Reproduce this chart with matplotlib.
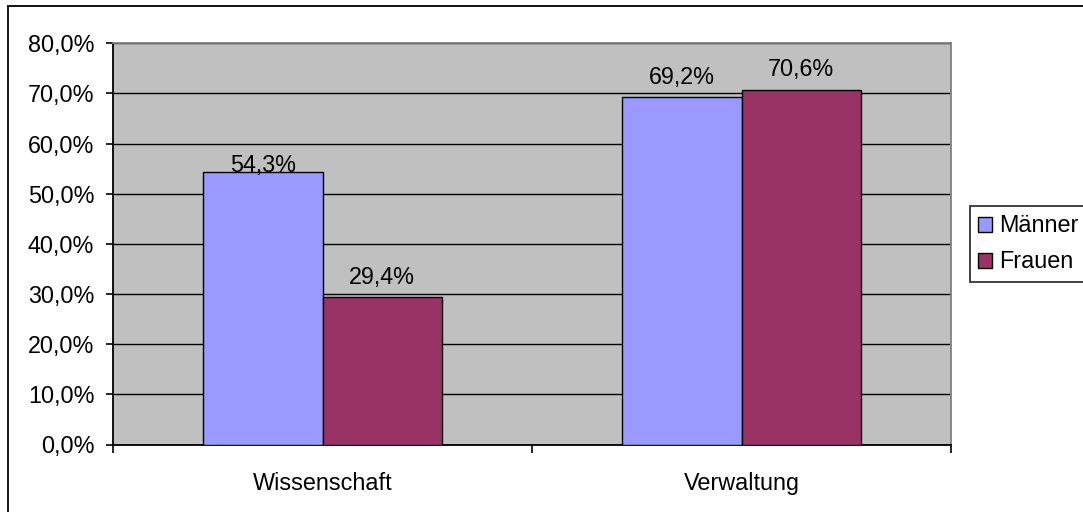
import matplotlib
matplotlib.use("Agg")
import matplotlib.pyplot as plt
from matplotlib.patches import Rectangle
import numpy as np

plt.rcParams['font.family'] = ['Liberation Sans', 'DejaVu Sans']

categories = ["Wissenschaft", "Verwaltung"]
series_names = ["Männer", "Frauen"]
maenner = [54.3, 69.2]
frauen = [29.4, 70.6]
colors = ["#9999FF", "#993366"]
label_offsets = [[0, 13.5], [13.5, 14]]  # pixels above bar top (styling)
yticks = [0, 10, 20, 30, 40, 50, 60, 70, 80]

FS = 16.8
W, H = 1083, 512
fig = plt.figure(figsize=(W / 100, H / 100), dpi=100)
fig.patch.set_facecolor("white")

# outer chart border (only left/top visible in reference)
fig.add_artist(Rectangle((8 / W, -0.05), 1.2, 1 - 6 / H + 0.05,
                         transform=fig.transFigure, fill=False,
                         edgecolor="black", linewidth=1.3))

ax = fig.add_axes([113 / W, 1 - 444.5 / H, (951 - 113) / W, (444.5 - 43.3) / H])
ax.set_facecolor("#C0C0C0")

x = np.arange(len(categories))
bw = 1 / 3.5
series = [maenner, frauen]
bars = []
for i, vals in enumerate(series):
    b = ax.bar(x + (i - 0.5) * bw, vals, width=bw, color=colors[i],
               edgecolor="black", linewidth=1.0, label=series_names[i], zorder=3)
    bars.append(b)
    for j, (rect, v) in enumerate(zip(b, vals)):
        ax.annotate(f"{v:.1f}%".replace(".", ","),
                    (rect.get_x() + rect.get_width() / 2, v),
                    xytext=(0, label_offsets[i][j] * 0.72), textcoords="offset points",
                    ha="center", va="baseline", fontsize=FS, color="black", zorder=4)

ax.set_xlim(-0.5, 1.5)
ax.set_ylim(0, 80)
ax.set_yticks(yticks)
ax.set_yticklabels([f"{t:.1f}%".replace(".", ",") for t in yticks], fontsize=FS)
ax.yaxis.grid(True, color="black", linewidth=1.0, zorder=1)
ax.set_axisbelow(True)

ax.set_xticks([-0.5, 0.5, 1.5])
ax.set_xticklabels([])
ax.set_xticks(x, minor=True)
ax.set_xticklabels(categories, minor=True, fontsize=FS)
ax.tick_params(axis="x", which="major", direction="out", length=6, width=1.2, color="black")
ax.tick_params(axis="x", which="minor", length=0, pad=19.5)
ax.tick_params(axis="y", direction="out", length=5, width=1.2, color="black", pad=8.5)

for s in ["left", "bottom"]:
    ax.spines[s].set_color("black")
    ax.spines[s].set_linewidth(1.3)
for s in ["top", "right"]:
    ax.spines[s].set_color("#808080")
    ax.spines[s].set_linewidth(1.3)

leg = fig.legend(handles=[bars[0], bars[1]], labels=series_names,
                 loc="upper left", bbox_to_anchor=(970 / W, 1 - 206 / H),
                 frameon=True, fancybox=False, fontsize=FS,
                 handlelength=0.6, handleheight=0.6, handletextpad=0.3,
                 borderpad=0.36, labelspacing=0.56, borderaxespad=0)
leg.get_frame().set_edgecolor("black")
leg.get_frame().set_linewidth(1.3)

fig.savefig("out.png", dpi=100)
